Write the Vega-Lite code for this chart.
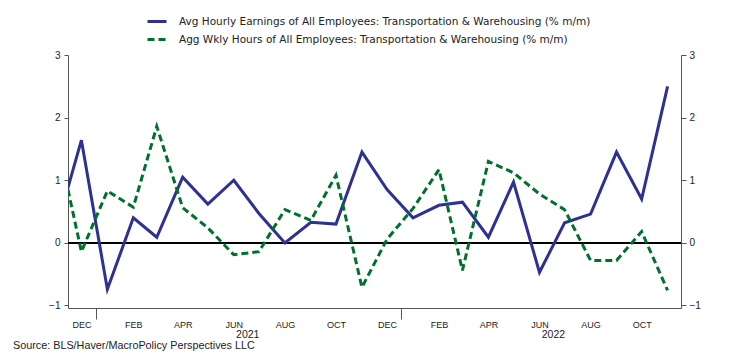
{
  "$schema": "https://vega.github.io/schema/vega-lite/v6.json",
  "width": 613,
  "height": 253,
  "autosize": "none",
  "padding": {"left": 68, "top": 55, "right": 65, "bottom": 47},
  "background": "white",
  "title": {
    "text": "Source: BLS/Haver/MacroPolicy Perspectives LLC",
    "orient": "bottom",
    "anchor": "start",
    "frame": "group",
    "dx": -55,
    "offset": 0,
    "font": "Liberation Sans",
    "fontSize": 10.8,
    "fontWeight": "normal",
    "color": "#222"
  },
  "config": {
    "view": {"stroke": null},
    "font": "Liberation Sans",
    "axis": {"grid": false, "domainColor": "#555", "tickColor": "#555", "labelColor": "#222", "labelFont": "Liberation Sans", "title": null}
  },
  "data": {
    "values": [
      {"date": "2020-11-15", "series": "Avg Hourly Earnings of All Employees: Transportation & Warehousing (% m/m)", "value": 0.22},
      {"date": "2020-12-15", "series": "Avg Hourly Earnings of All Employees: Transportation & Warehousing (% m/m)", "value": 1.64},
      {"date": "2021-01-15", "series": "Avg Hourly Earnings of All Employees: Transportation & Warehousing (% m/m)", "value": -0.74},
      {"date": "2021-02-15", "series": "Avg Hourly Earnings of All Employees: Transportation & Warehousing (% m/m)", "value": 0.40},
      {"date": "2021-03-15", "series": "Avg Hourly Earnings of All Employees: Transportation & Warehousing (% m/m)", "value": 0.09},
      {"date": "2021-04-15", "series": "Avg Hourly Earnings of All Employees: Transportation & Warehousing (% m/m)", "value": 1.05},
      {"date": "2021-05-15", "series": "Avg Hourly Earnings of All Employees: Transportation & Warehousing (% m/m)", "value": 0.62},
      {"date": "2021-06-15", "series": "Avg Hourly Earnings of All Employees: Transportation & Warehousing (% m/m)", "value": 1.00},
      {"date": "2021-07-15", "series": "Avg Hourly Earnings of All Employees: Transportation & Warehousing (% m/m)", "value": 0.47},
      {"date": "2021-08-15", "series": "Avg Hourly Earnings of All Employees: Transportation & Warehousing (% m/m)", "value": 0.0},
      {"date": "2021-09-15", "series": "Avg Hourly Earnings of All Employees: Transportation & Warehousing (% m/m)", "value": 0.33},
      {"date": "2021-10-15", "series": "Avg Hourly Earnings of All Employees: Transportation & Warehousing (% m/m)", "value": 0.30},
      {"date": "2021-11-15", "series": "Avg Hourly Earnings of All Employees: Transportation & Warehousing (% m/m)", "value": 1.45},
      {"date": "2021-12-15", "series": "Avg Hourly Earnings of All Employees: Transportation & Warehousing (% m/m)", "value": 0.85},
      {"date": "2022-01-15", "series": "Avg Hourly Earnings of All Employees: Transportation & Warehousing (% m/m)", "value": 0.40},
      {"date": "2022-02-15", "series": "Avg Hourly Earnings of All Employees: Transportation & Warehousing (% m/m)", "value": 0.60},
      {"date": "2022-03-15", "series": "Avg Hourly Earnings of All Employees: Transportation & Warehousing (% m/m)", "value": 0.65},
      {"date": "2022-04-15", "series": "Avg Hourly Earnings of All Employees: Transportation & Warehousing (% m/m)", "value": 0.09},
      {"date": "2022-05-15", "series": "Avg Hourly Earnings of All Employees: Transportation & Warehousing (% m/m)", "value": 0.97},
      {"date": "2022-06-15", "series": "Avg Hourly Earnings of All Employees: Transportation & Warehousing (% m/m)", "value": -0.47},
      {"date": "2022-07-15", "series": "Avg Hourly Earnings of All Employees: Transportation & Warehousing (% m/m)", "value": 0.32},
      {"date": "2022-08-15", "series": "Avg Hourly Earnings of All Employees: Transportation & Warehousing (% m/m)", "value": 0.46},
      {"date": "2022-09-15", "series": "Avg Hourly Earnings of All Employees: Transportation & Warehousing (% m/m)", "value": 1.45},
      {"date": "2022-10-15", "series": "Avg Hourly Earnings of All Employees: Transportation & Warehousing (% m/m)", "value": 0.70},
      {"date": "2022-11-15", "series": "Avg Hourly Earnings of All Employees: Transportation & Warehousing (% m/m)", "value": 2.50},
      {"date": "2020-11-15", "series": "Agg Wkly Hours of All Employees: Transportation & Warehousing (% m/m)", "value": 1.71},
      {"date": "2020-12-15", "series": "Agg Wkly Hours of All Employees: Transportation & Warehousing (% m/m)", "value": -0.14},
      {"date": "2021-01-15", "series": "Agg Wkly Hours of All Employees: Transportation & Warehousing (% m/m)", "value": 0.83},
      {"date": "2021-02-15", "series": "Agg Wkly Hours of All Employees: Transportation & Warehousing (% m/m)", "value": 0.57},
      {"date": "2021-03-15", "series": "Agg Wkly Hours of All Employees: Transportation & Warehousing (% m/m)", "value": 1.86},
      {"date": "2021-04-15", "series": "Agg Wkly Hours of All Employees: Transportation & Warehousing (% m/m)", "value": 0.56},
      {"date": "2021-05-15", "series": "Agg Wkly Hours of All Employees: Transportation & Warehousing (% m/m)", "value": 0.24},
      {"date": "2021-06-15", "series": "Agg Wkly Hours of All Employees: Transportation & Warehousing (% m/m)", "value": -0.19},
      {"date": "2021-07-15", "series": "Agg Wkly Hours of All Employees: Transportation & Warehousing (% m/m)", "value": -0.14},
      {"date": "2021-08-15", "series": "Agg Wkly Hours of All Employees: Transportation & Warehousing (% m/m)", "value": 0.53},
      {"date": "2021-09-15", "series": "Agg Wkly Hours of All Employees: Transportation & Warehousing (% m/m)", "value": 0.36},
      {"date": "2021-10-15", "series": "Agg Wkly Hours of All Employees: Transportation & Warehousing (% m/m)", "value": 1.08},
      {"date": "2021-11-15", "series": "Agg Wkly Hours of All Employees: Transportation & Warehousing (% m/m)", "value": -0.71},
      {"date": "2021-12-15", "series": "Agg Wkly Hours of All Employees: Transportation & Warehousing (% m/m)", "value": 0.06},
      {"date": "2022-01-15", "series": "Agg Wkly Hours of All Employees: Transportation & Warehousing (% m/m)", "value": 0.55},
      {"date": "2022-02-15", "series": "Agg Wkly Hours of All Employees: Transportation & Warehousing (% m/m)", "value": 1.17},
      {"date": "2022-03-15", "series": "Agg Wkly Hours of All Employees: Transportation & Warehousing (% m/m)", "value": -0.44},
      {"date": "2022-04-15", "series": "Agg Wkly Hours of All Employees: Transportation & Warehousing (% m/m)", "value": 1.30},
      {"date": "2022-05-15", "series": "Agg Wkly Hours of All Employees: Transportation & Warehousing (% m/m)", "value": 1.12},
      {"date": "2022-06-15", "series": "Agg Wkly Hours of All Employees: Transportation & Warehousing (% m/m)", "value": 0.78},
      {"date": "2022-07-15", "series": "Agg Wkly Hours of All Employees: Transportation & Warehousing (% m/m)", "value": 0.53},
      {"date": "2022-08-15", "series": "Agg Wkly Hours of All Employees: Transportation & Warehousing (% m/m)", "value": -0.28},
      {"date": "2022-09-15", "series": "Agg Wkly Hours of All Employees: Transportation & Warehousing (% m/m)", "value": -0.28},
      {"date": "2022-10-15", "series": "Agg Wkly Hours of All Employees: Transportation & Warehousing (% m/m)", "value": 0.18},
      {"date": "2022-11-15", "series": "Agg Wkly Hours of All Employees: Transportation & Warehousing (% m/m)", "value": -0.76}
    ]
  },
  "resolve": {"axis": {"x": "independent", "y": "independent"}},
  "layer": [
    {
      "mark": {"type": "rule", "color": "black", "strokeWidth": 1},
      "encoding": {"y": {"datum": 0, "type": "quantitative", "scale": {"domain": [-1.04, 3], "nice": false, "zero": false}, "axis": null}}
    },
    {
      "mark": {"type": "line", "strokeWidth": 3, "clip": true},
      "encoding": {
        "x": {
          "field": "date", "type": "temporal",
          "scale": {"type": "utc", "domain": [{"year": 2020, "month": 11, "date": 29, "utc": true}, {"year": 2022, "month": 12, "date": 1, "utc": true}]},
          "axis": {
            "orient": "bottom",
            "values": [
              {"year": 2020, "month": 12, "date": 15, "utc": true},
              {"year": 2021, "month": 2, "date": 15, "utc": true},
              {"year": 2021, "month": 4, "date": 15, "utc": true},
              {"year": 2021, "month": 6, "date": 15, "utc": true},
              {"year": 2021, "month": 8, "date": 15, "utc": true},
              {"year": 2021, "month": 10, "date": 15, "utc": true},
              {"year": 2021, "month": 12, "date": 15, "utc": true},
              {"year": 2022, "month": 2, "date": 15, "utc": true},
              {"year": 2022, "month": 4, "date": 15, "utc": true},
              {"year": 2022, "month": 6, "date": 15, "utc": true},
              {"year": 2022, "month": 8, "date": 15, "utc": true},
              {"year": 2022, "month": 10, "date": 15, "utc": true}
            ],
            "labelExpr": "upper(utcFormat(datum.value, '%b'))",
            "ticks": false,
            "tickSize": 0,
            "labelPadding": 12,
            "labelFontSize": 9,
            "labelOverlap": false,
            "labelFlush": false
          }
        },
        "y": {
          "field": "value", "type": "quantitative",
          "scale": {"domain": [-1.04, 3], "nice": false, "zero": false},
          "axis": {"orient": "left", "values": [-1, 0, 1, 2, 3], "tickSize": 4, "labelPadding": 4, "labelFontSize": 10}
        },
        "color": {
          "field": "series", "type": "nominal",
          "sort": ["Avg Hourly Earnings of All Employees: Transportation & Warehousing (% m/m)", "Agg Wkly Hours of All Employees: Transportation & Warehousing (% m/m)"],
          "scale": {"range": ["#2E3192", "#00702E"]},
          "legend": {
            "title": null, "orient": "none", "legendX": 78, "legendY": -44.5,
            "symbolType": "stroke", "symbolSize": 361, "symbolStrokeWidth": 3, "symbolOpacity": 1,
            "labelFont": "DejaVu Sans", "labelFontSize": 10.5, "labelColor": "#222", "labelOffset": 11, "rowPadding": 1, "labelLimit": 600,
            "encode": {"symbols": {"update": {"strokeDash": {"signal": "datum.index == 1 ? [7, 4] : [400, 0]"}}}}
          }
        },
        "strokeDash": {
          "field": "series", "type": "nominal",
          "sort": ["Avg Hourly Earnings of All Employees: Transportation & Warehousing (% m/m)", "Agg Wkly Hours of All Employees: Transportation & Warehousing (% m/m)"],
          "scale": {"range": [[400, 0], [7, 4]]},
          "legend": null
        }
      }
    },
    {
      "mark": {"type": "point", "opacity": 0},
      "encoding": {
        "x": {
          "field": "date", "type": "temporal",
          "axis": {
            "orient": "bottom",
            "domain": false,
            "values": [
              {"year": 2021, "month": 1, "date": 1, "utc": true},
              {"year": 2021, "month": 7, "date": 1, "utc": true},
              {"year": 2022, "month": 1, "date": 1, "utc": true},
              {"year": 2022, "month": 7, "date": 1, "utc": true}
            ],
            "labelExpr": "utcmonth(datum.value) == 6 ? utcFormat(datum.value, '%Y') : ''",
            "tickSize": 11,
            "tickColor": {"condition": {"test": "utcmonth(datum.value) == 0", "value": "#555"}, "value": "transparent"},
            "labelPadding": 10,
            "labelFontSize": 10.5,
            "labelOverlap": false,
            "labelFlush": false
          }
        },
        "y": {
          "field": "value", "type": "quantitative",
          "axis": {"orient": "right", "values": [-1, 0, 1, 2, 3], "tickSize": 5, "labelPadding": 3, "labelFontSize": 10}
        }
      }
    }
  ]
}
